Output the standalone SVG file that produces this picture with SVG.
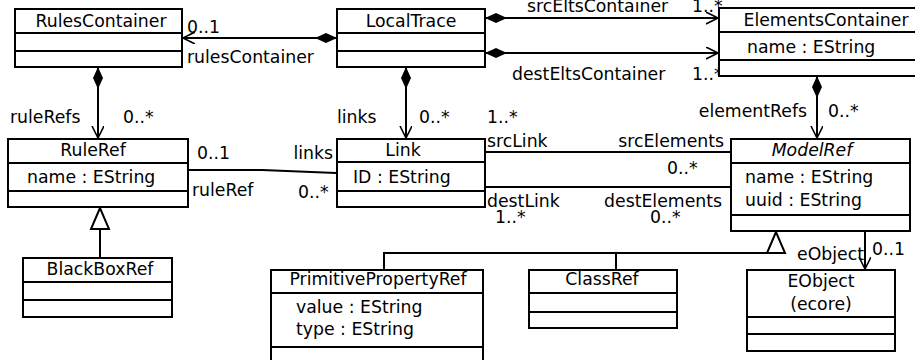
<svg xmlns="http://www.w3.org/2000/svg" width="915" height="360" viewBox="0 0 915 360">
<defs>
<style>
.box{fill:#fff;stroke:#000;stroke-width:2}
.ln{fill:none;stroke:#000;stroke-width:2}
.t{font-family:"DejaVu Sans",sans-serif;font-size:17.3px;fill:#000}
.c{text-anchor:middle}
.i{font-style:italic}
</style>
<marker id="open" markerWidth="14" markerHeight="14" refX="12" refY="6" orient="auto" markerUnits="userSpaceOnUse">
<path d="M0,0 L12,6 L0,12" fill="none" stroke="#000" stroke-width="1.6"/>
</marker>
<marker id="dia" markerWidth="24" markerHeight="12" refX="0" refY="6" orient="auto" markerUnits="userSpaceOnUse">
<path d="M0,6 L11,1 L22,6 L11,11 Z" fill="#000"/>
</marker>
</defs>
<rect width="915" height="360" fill="#fff"/>
<g id="connectors">
<line class="ln" x1="337" y1="38" x2="183" y2="38" marker-start="url(#dia)" marker-end="url(#open)"/>
<line class="ln" x1="485" y1="18" x2="718" y2="18" marker-start="url(#dia)" marker-end="url(#open)"/>
<line class="ln" x1="485" y1="53" x2="718" y2="53" marker-start="url(#dia)" marker-end="url(#open)"/>
<line class="ln" x1="98" y1="67" x2="98" y2="138" marker-start="url(#dia)" marker-end="url(#open)"/>
<line class="ln" x1="406" y1="67" x2="406" y2="138" marker-start="url(#dia)" marker-end="url(#open)"/>
<line class="ln" x1="817" y1="76" x2="817" y2="138" marker-start="url(#dia)" marker-end="url(#open)"/>
<polyline class="ln" points="188,170 262,170 336,173"/>
<line class="ln" x1="485" y1="152" x2="731" y2="152"/>
<line class="ln" x1="485" y1="187" x2="731" y2="187"/>
<line class="ln" x1="865" y1="231" x2="865" y2="269" marker-end="url(#open)"/>
<polyline class="ln" points="100,229 100,258"/>
<path d="M100,208 L91,229 L109,229 Z" fill="#fff" stroke="#000" stroke-width="2"/>
<polyline class="ln" points="384,270 384,253 767,253"/>
<line class="ln" x1="616" y1="253" x2="616" y2="270"/>
<path d="M776,232 L767,253 L785,253 Z" fill="#fff" stroke="#000" stroke-width="2"/>
<text class="t" x="187" y="33">0..1</text>
<text class="t" x="187" y="63">rulesContainer</text>
<text class="t" x="527" y="12">srcEltsContainer</text>
<text class="t" x="692" y="12">1..*</text>
<text class="t" x="512" y="80">destEltsContainer</text>
<text class="t" x="692" y="80">1..*</text>
<text class="t" x="10" y="123">ruleRefs</text>
<text class="t" x="123" y="123">0..*</text>
<text class="t" x="337" y="123">links</text>
<text class="t" x="419" y="123">0..*</text>
<text class="t" x="487" y="123">1..*</text>
<text class="t" x="807" y="117" text-anchor="end">elementRefs</text>
<text class="t" x="828" y="117">0..*</text>
<text class="t" x="197" y="159">0..1</text>
<text class="t" x="192" y="196">ruleRef</text>
<text class="t" x="333" y="159" text-anchor="end">links</text>
<text class="t" x="298" y="198">0..*</text>
<text class="t" x="487" y="147">srcLink</text>
<text class="t" x="724" y="147" text-anchor="end">srcElements</text>
<text class="t" x="667" y="174">0..*</text>
<text class="t" x="487" y="207">destLink</text>
<text class="t" x="495" y="223">1..*</text>
<text class="t" x="722" y="207" text-anchor="end">destElements</text>
<text class="t" x="650" y="223">0..*</text>
<text class="t" x="797" y="260">eObject</text>
<text class="t" x="872" y="255">0..1</text>
</g>
<g id="RulesContainer">
<rect class="box" x="15" y="9" width="167" height="58"/>
<line class="ln" x1="15" y1="33" x2="182" y2="33"/>
<line class="ln" x1="15" y1="51" x2="182" y2="51"/>
<text class="t c" x="101" y="27">RulesContainer</text>
</g>
<g id="LocalTrace">
<rect class="box" x="337" y="9" width="148" height="58"/>
<line class="ln" x1="337" y1="33" x2="485" y2="33"/>
<line class="ln" x1="337" y1="51" x2="485" y2="51"/>
<text class="t c" x="411" y="27">LocalTrace</text>
</g>
<g id="ElementsContainer">
<rect class="box" x="719" y="8" width="210" height="68"/>
<line class="ln" x1="719" y1="32" x2="915" y2="32"/>
<line class="ln" x1="719" y1="60" x2="915" y2="60"/>
<text class="t c" x="826" y="26">ElementsContainer</text>
<text class="t" x="747" y="53">name : EString</text>
</g>
<g id="RuleRef">
<rect class="box" x="8" y="139" width="180" height="68"/>
<line class="ln" x1="8" y1="163" x2="188" y2="163"/>
<line class="ln" x1="8" y1="191" x2="188" y2="191"/>
<text class="t c" x="93" y="156">RuleRef</text>
<text class="t" x="27" y="183">name : EString</text>
</g>
<g id="Link">
<rect class="box" x="337" y="139" width="148" height="68"/>
<line class="ln" x1="337" y1="162" x2="485" y2="162"/>
<line class="ln" x1="337" y1="191" x2="485" y2="191"/>
<text class="t c" x="403" y="156">Link</text>
<text class="t" x="353" y="183">ID : EString</text>
</g>
<g id="ModelRef">
<rect class="box" x="731" y="139" width="179" height="92"/>
<line class="ln" x1="731" y1="163" x2="910" y2="163"/>
<line class="ln" x1="731" y1="215" x2="910" y2="215"/>
<text class="t c i" x="812" y="156">ModelRef</text>
<text class="t" x="745" y="183">name : EString</text>
<text class="t" x="745" y="206">uuid : EString</text>
</g>
<g id="BlackBoxRef">
<rect class="box" x="23" y="258" width="149" height="59"/>
<line class="ln" x1="23" y1="282" x2="172" y2="282"/>
<line class="ln" x1="23" y1="300" x2="172" y2="300"/>
<text class="t c" x="100" y="275">BlackBoxRef</text>
</g>
<g id="PrimitivePropertyRef">
<rect class="box" x="271" y="270" width="212" height="100"/>
<line class="ln" x1="271" y1="293" x2="483" y2="293"/>
<line class="ln" x1="271" y1="347" x2="483" y2="347"/>
<text class="t c" x="378" y="285">PrimitivePropertyRef</text>
<text class="t" x="296" y="313">value : EString</text>
<text class="t" x="296" y="335">type : EString</text>
</g>
<g id="ClassRef">
<rect class="box" x="529" y="270" width="148" height="58"/>
<line class="ln" x1="529" y1="293" x2="677" y2="293"/>
<line class="ln" x1="529" y1="312" x2="677" y2="312"/>
<text class="t c" x="602" y="285">ClassRef</text>
</g>
<g id="EObject">
<rect class="box" x="747" y="270" width="148" height="81"/>
<line class="ln" x1="747" y1="317" x2="895" y2="317"/>
<line class="ln" x1="747" y1="334" x2="895" y2="334"/>
<text class="t c" x="821" y="287">EObject</text>
<text class="t c" x="821" y="310">(ecore)</text>
</g>
</svg>
